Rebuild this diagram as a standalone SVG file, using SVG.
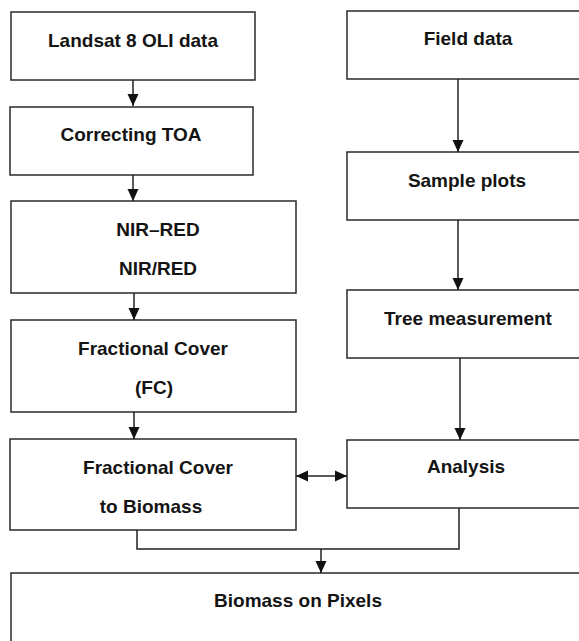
<svg xmlns="http://www.w3.org/2000/svg" width="579" height="641" viewBox="0 0 579 641">
<style>
  .box { fill: #ffffff; stroke: #2a2a2a; stroke-width: 1.5; }
  .lbl { font-family: "Liberation Sans", Arial, sans-serif; font-weight: bold; font-size: 19px; fill: #141414; text-anchor: middle; }
  .wire { fill: none; stroke: #222222; stroke-width: 1.5; }
</style>
<defs>
  <marker id="ah" markerUnits="userSpaceOnUse" markerWidth="12" markerHeight="12" viewBox="0 0 12 12" refX="12" refY="6" orient="auto-start-reverse">
    <path d="M0,0.5 L12,6 L0,11.5 Z" fill="#111111"/>
  </marker>
</defs>
<rect width="579" height="641" fill="#ffffff"/>

<g id="landsat">
  <rect class="box" x="11" y="12" width="244" height="68"/>
  <text class="lbl" x="133" y="47">Landsat 8 OLI data</text>
</g>
<g id="toa">
  <rect class="box" x="10" y="107" width="243" height="68"/>
  <text class="lbl" x="131" y="141">Correcting TOA</text>
</g>
<g id="nir">
  <rect class="box" x="11" y="201" width="285" height="92"/>
  <text class="lbl" x="158" y="236">NIR–RED</text>
  <text class="lbl" x="158" y="275">NIR/RED</text>
</g>
<g id="fc">
  <rect class="box" x="11" y="320" width="285" height="92"/>
  <text class="lbl" x="153" y="355">Fractional Cover</text>
  <text class="lbl" x="154" y="394">(FC)</text>
</g>
<g id="fc2bio">
  <rect class="box" x="10" y="439" width="286" height="91"/>
  <text class="lbl" x="158" y="474">Fractional Cover</text>
  <text class="lbl" x="151" y="513">to Biomass</text>
</g>
<g id="field">
  <rect class="box" x="347" y="11" width="243" height="68"/>
  <text class="lbl" x="468" y="45">Field data</text>
</g>
<g id="plots">
  <rect class="box" x="347" y="152" width="243" height="68"/>
  <text class="lbl" x="467" y="187">Sample plots</text>
</g>
<g id="tree">
  <rect class="box" x="347" y="290" width="243" height="68"/>
  <text class="lbl" x="468" y="325">Tree measurement</text>
</g>
<g id="analysis">
  <rect class="box" x="347" y="440" width="243" height="68"/>
  <text class="lbl" x="466" y="473">Analysis</text>
</g>
<g id="pixels">
  <rect class="box" x="11" y="573" width="578" height="90"/>
  <text class="lbl" x="298" y="607">Biomass on Pixels</text>
</g>

<g id="connectors">
  <line class="wire" x1="133" y1="80" x2="133" y2="106" marker-end="url(#ah)"/>
  <line class="wire" x1="133" y1="175" x2="133" y2="201" marker-end="url(#ah)"/>
  <line class="wire" x1="134" y1="293" x2="134" y2="320" marker-end="url(#ah)"/>
  <line class="wire" x1="134" y1="412" x2="134" y2="439" marker-end="url(#ah)"/>
  <line class="wire" x1="458" y1="79" x2="458" y2="152" marker-end="url(#ah)"/>
  <line class="wire" x1="458" y1="220" x2="458" y2="290" marker-end="url(#ah)"/>
  <line class="wire" x1="460" y1="358" x2="460" y2="440" marker-end="url(#ah)"/>
  <line class="wire" x1="296" y1="476" x2="347" y2="476" marker-start="url(#ah)" marker-end="url(#ah)"/>
  <polyline class="wire" points="137,530 137,549 459,549 459,508"/>
  <line class="wire" x1="321" y1="549" x2="321" y2="573" marker-end="url(#ah)"/>
</g>
</svg>
